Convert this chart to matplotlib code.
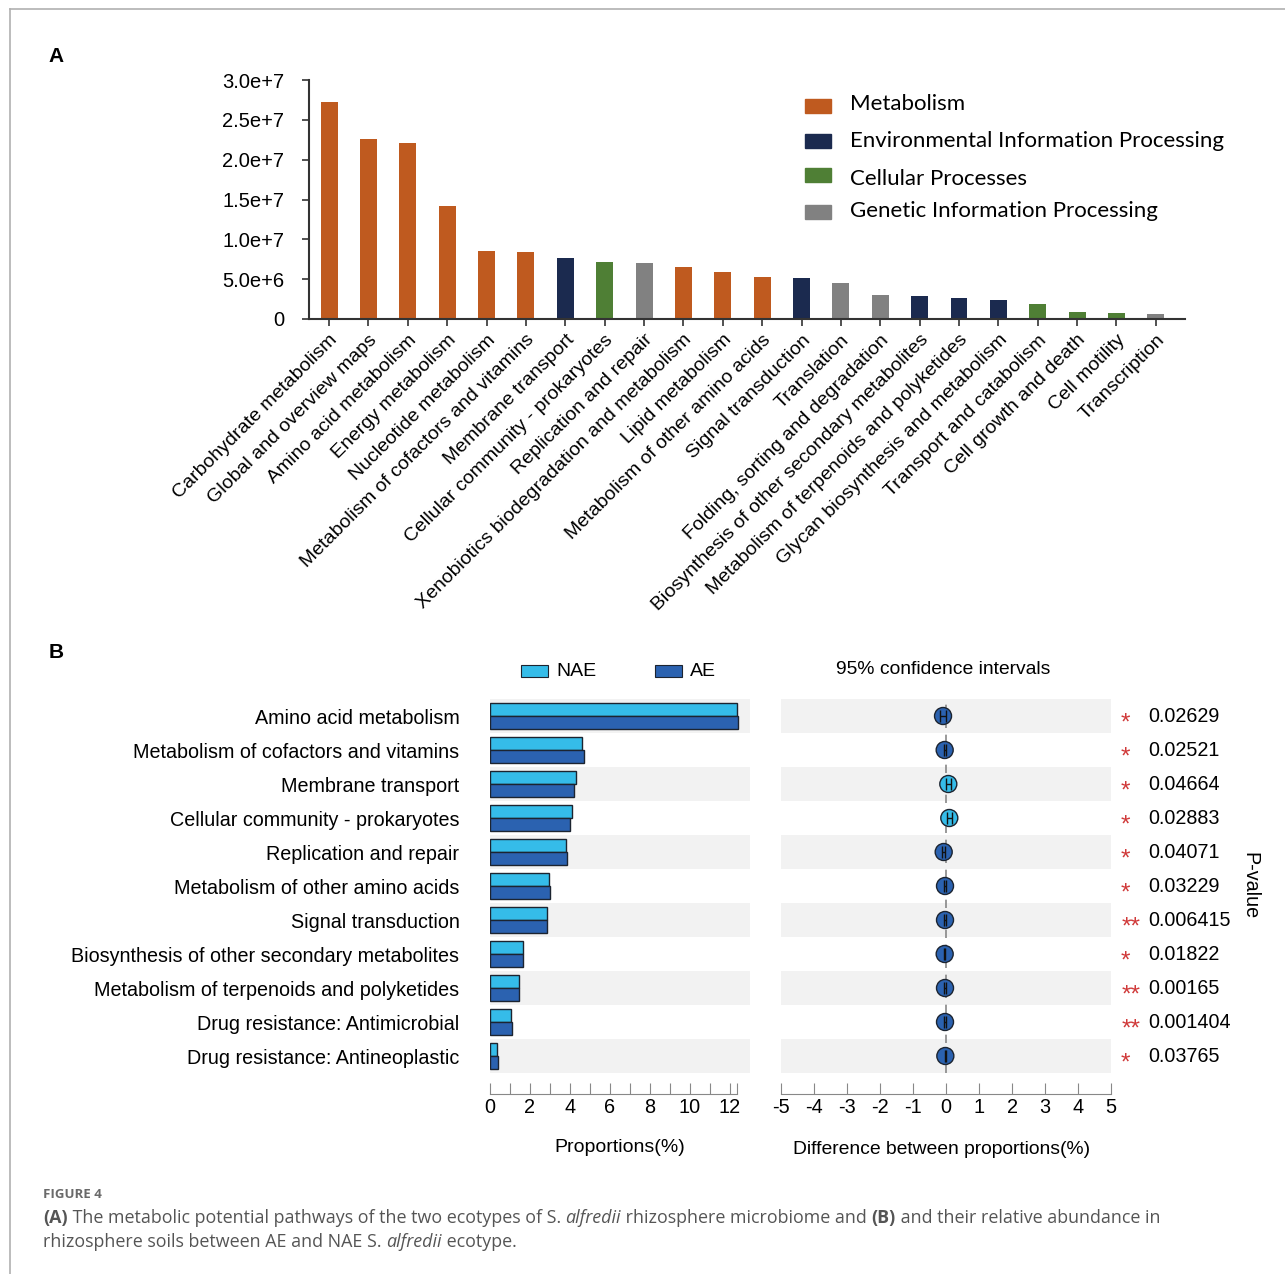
import numpy as np
import matplotlib
matplotlib.use("Agg")
import matplotlib.pyplot as plt
from matplotlib.patches import Rectangle
from matplotlib.lines import Line2D

plt.rcParams["font.family"] = ["Liberation Sans", "DejaVu Sans"]
plt.rcParams["axes.unicode_minus"] = False

# ---- panel A data ----
pathways = ["Carbohydrate metabolism", "Global and overview maps", "Amino acid metabolism",
            "Energy metabolism", "Nucleotide metabolism", "Metabolism of cofactors and vitamins",
            "Membrane transport", "Cellular community - prokaryotes", "Replication and repair",
            "Xenobiotics biodegradation and metabolism", "Lipid metabolism",
            "Metabolism of other amino acids", "Signal transduction", "Translation",
            "Folding, sorting and degradation", "Biosynthesis of other secondary metabolites",
            "Metabolism of terpenoids and polyketides", "Glycan biosynthesis and metabolism",
            "Transport and catabolism", "Cell growth and death", "Cell motility", "Transcription"]
abundance = [27.3e6, 22.6e6, 22.1e6, 14.2e6, 8.56e6, 8.40e6, 7.69e6, 7.18e6, 7.02e6,
             6.56e6, 5.93e6, 5.27e6, 5.14e6, 4.51e6, 3.01e6, 2.92e6, 2.63e6, 2.42e6,
             1.92e6, 0.88e6, 0.79e6, 0.63e6]
groups = ["M", "M", "M", "M", "M", "M", "E", "C", "G", "M", "M", "M", "E", "G", "G",
          "E", "E", "E", "C", "C", "C", "G"]
group_names = {"M": "Metabolism", "E": "Environmental Information Processing",
               "C": "Cellular Processes", "G": "Genetic Information Processing"}
group_colors = {"M": "#bf5a1f", "E": "#1b2a4f", "C": "#4f7f35", "G": "#818181"}

# ---- panel B data ----
b_pathways = ["Amino acid metabolism", "Metabolism of cofactors and vitamins",
              "Membrane transport", "Cellular community - prokaryotes",
              "Replication and repair", "Metabolism of other amino acids",
              "Signal transduction", "Biosynthesis of other secondary metabolites",
              "Metabolism of terpenoids and polyketides", "Drug resistance: Antimicrobial",
              "Drug resistance: Antineoplastic"]
nae = [12.33, 4.62, 4.28, 4.12, 3.80, 2.95, 2.83, 1.63, 1.43, 1.05, 0.37]
ae = [12.42, 4.68, 4.22, 4.02, 3.87, 2.98, 2.87, 1.67, 1.47, 1.08, 0.40]
diff = [-0.09, -0.04, 0.07, 0.10, -0.07, -0.03, -0.03, -0.04, -0.03, -0.03, -0.02]
ci_half = [0.09, 0.03, 0.07, 0.07, 0.05, 0.02, 0.02, 0.02, 0.02, 0.02, 0.02]
pvalues = ["0.02629", "0.02521", "0.04664", "0.02883", "0.04071", "0.03229",
           "0.006415", "0.01822", "0.00165", "0.001404", "0.03765"]

W, H = 1285, 1274
fig = plt.figure(figsize=(W / 100, H / 100), dpi=100)


def px_axes(x0, y0, x1, y1):
    return fig.add_axes([x0 / W, 1 - y1 / H, (x1 - x0) / W, (y1 - y0) / H])


def ftext(x, y, s, **kw):
    return fig.text(x / W, 1 - y / H, s, **kw)


# frame
fig.add_artist(Line2D([10 / W, 10 / W], [0, 1 - 9 / H], color="#b0b0b0", lw=1.2))
fig.add_artist(Line2D([10 / W, 1], [1 - 9 / H, 1 - 9 / H], color="#b0b0b0", lw=1.2))

# ---------------- panel A ----------------
ax = px_axes(309, 80, 1185, 319)
x = np.arange(len(pathways))
ax.bar(x, abundance, width=0.43, color=[group_colors[g] for g in groups])
ax.set_xlim(-0.51, 21.74)
ax.set_ylim(0, 3.0e7)
ax.set_yticks([0, 5e6, 1e7, 1.5e7, 2e7, 2.5e7, 3e7])
ax.set_yticklabels(["0", "5.0e+6", "1.0e+7", "1.5e+7", "2.0e+7", "2.5e+7", "3.0e+7"], fontsize=14.5)
ax.set_xticks(x)
ax.set_xticklabels(pathways, rotation=45, ha="right", rotation_mode="anchor", fontsize=14)
for s in ["top", "right"]:
    ax.spines[s].set_visible(False)
for s in ["left", "bottom"]:
    ax.spines[s].set_color("#333333")
    ax.spines[s].set_linewidth(1.5)
ax.tick_params(axis="both", length=5, width=1.2, color="#333333", pad=4)
ax.tick_params(axis="y", pad=13)

ftext(56, 57, "A", fontsize=15, fontweight="bold", va="center", ha="center")

# legend of panel A
patch_y = [106, 141, 175, 212]
text_y = [104, 141, 179, 211]
for py, ty, g in zip(patch_y, text_y, ["M", "E", "C", "G"]):
    fig.add_artist(Rectangle((805 / W, 1 - (py + 7) / H), 26 / W, 14 / H,
                             color=group_colors[g], transform=fig.transFigure))
    ftext(850, ty, group_names[g], fontsize=16.0, family=["Lato", "DejaVu Sans"], va="center")

# ---------------- panel B ----------------
nae_col = "#35bce9"
ae_col = "#2b62b0"
edge = "#1c2430"
rows = np.arange(len(b_pathways)) + 0.5

axl = px_axes(490, 699, 750, 1073)
axr = px_axes(781, 699, 1111, 1073)
for a in (axl, axr):
    a.set_ylim(len(b_pathways), 0)
    for i in range(0, len(b_pathways), 2):
        a.axhspan(i, i + 1, color="#f2f2f2", lw=0, zorder=0)
    for s in ["top", "right", "left"]:
        a.spines[s].set_visible(False)
    a.spines["bottom"].set_position(("outward", 15))
    a.spines["bottom"].set_color("#888888")
    a.tick_params(axis="x", direction="in", length=8, color="#888888", labelsize=14.3, pad=3)

bh = 0.37
axl.barh(rows - bh / 2, nae, height=bh, color=nae_col, edgecolor=edge, lw=1, zorder=2)
axl.barh(rows + bh / 2, ae, height=bh, color=ae_col, edgecolor=edge, lw=1, zorder=2)
axl.set_xlim(0, 13)
axl.spines["bottom"].set_bounds(0, 12.35)
axl.set_xticks(list(range(13)) + [12.35])
axl.set_xticklabels([str(v) if v % 2 == 0 else "" for v in range(13)] + [""])
axl.set_yticks(rows)
axl.set_yticklabels(b_pathways, fontsize=14.2)
axl.tick_params(axis="y", length=0, pad=22)

axr.set_xlim(-5, 5)
axr.spines["bottom"].set_bounds(-5, 5)
axr.set_xticks(range(-5, 6))
axr.set_yticks([])
axr.axvline(0, color="#888888", lw=1.2, ls=(0, (5, 4)), zorder=1)
dot_cols = [nae_col if d > 0 else ae_col for d in diff]
axr.scatter(diff, rows, s=150, c=dot_cols, edgecolors=edge, linewidths=1, zorder=3)
axr.errorbar(diff, rows, xerr=ci_half, fmt="none", ecolor="#111111", elinewidth=1,
             capsize=4, capthick=1, zorder=4)

for r, p in zip(rows, pvalues):
    stars = "**" if float(p) < 0.01 else "*"
    axr.text(5.45 if stars == "*" else 5.6, r + 0.22, stars, color="#d03a3a", fontsize=17.5,
             ha="center", va="center", clip_on=False)
    axr.text(6.12, r, p, fontsize=14.2, ha="left", va="center", clip_on=False)

ftext(56, 652, "B", fontsize=15, fontweight="bold", va="center", ha="center")

# legend of panel B
for x0, lab, col in [(521, "NAE", nae_col), (655, "AE", ae_col)]:
    fig.add_artist(Rectangle((x0 / W, 1 - 677 / H), 27 / W, 12 / H, facecolor=col,
                             edgecolor=edge, lw=0.8, transform=fig.transFigure))
    ftext(x0 + 35, 672, lab, fontsize=14.0, va="center")
ftext(943, 669, "95% confidence intervals", fontsize=13.9, ha="center", va="center")
ftext(1250, 886, "P-value", fontsize=14.2, rotation=-90, ha="center", va="center")
ftext(620, 1148, "Proportions(%)", fontsize=14.0, ha="center", va="center")
ftext(942, 1150, "Difference between proportions(%)", fontsize=13.9, ha="center", va="center")

# ---------------- caption ----------------
ftext(43, 1195, "FIGURE 4", fontsize=9.5, fontweight="bold", color="#6a6a6a",
      family=["Open Sans", "DejaVu Sans"], va="center")

renderer = fig.canvas.get_renderer()


def rich_line(x0, y0, parts):
    xx = x0
    for s, style in parts:
        t = ftext(xx, y0, s, fontsize=12.9, color="#555555", family=["Open Sans", "DejaVu Sans"],
                  va="baseline", fontweight="bold" if style == "b" else "normal",
                  fontstyle="italic" if style == "i" else "normal")
        xx += t.get_window_extent(renderer=renderer).width


rich_line(43, 1223, [("(A)", "b"), (" The metabolic potential pathways of the two ecotypes of S. ", "n"),
                     ("alfredii", "i"), (" rhizosphere microbiome and ", "n"), ("(B)", "b"),
                     (" and their relative abundance in", "n")])
rich_line(43, 1247, [("rhizosphere soils between AE and NAE S. ", "n"), ("alfredii", "i"),
                     (" ecotype.", "n")])

fig.savefig("out.png", dpi=100)
